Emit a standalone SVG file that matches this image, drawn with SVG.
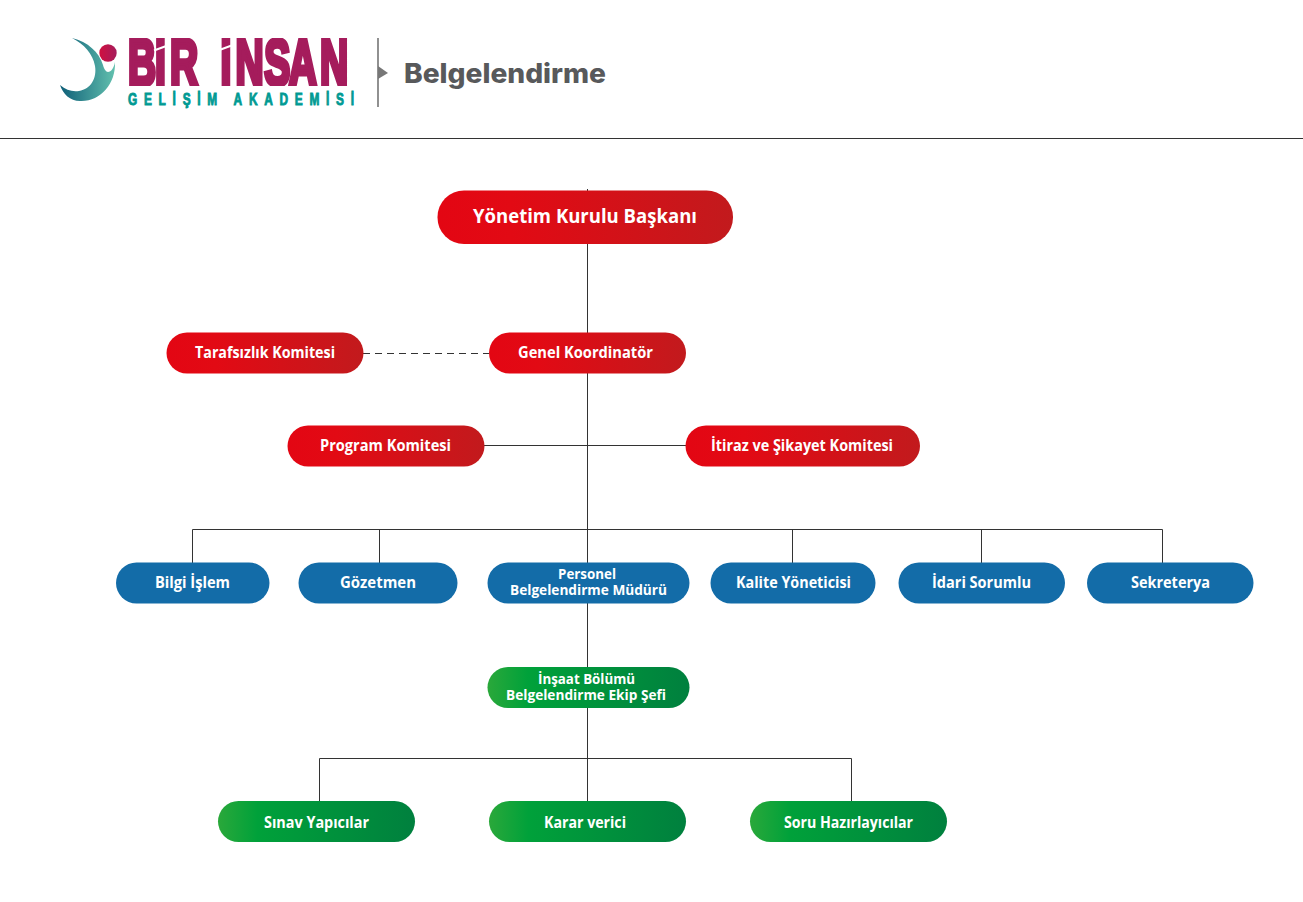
<svg xmlns="http://www.w3.org/2000/svg" width="1303" height="902" viewBox="0 0 1303 902">
<style>
.t{font-family:"Open Sans","Noto Sans",sans-serif;font-weight:700;fill:#fff;font-size:16px}
.c{stroke:#333;stroke-width:1;fill:none}
</style>
<defs>
<linearGradient id="r"><stop offset="0" stop-color="#e30613"/><stop offset=".25" stop-color="#e20a14"/><stop offset="1" stop-color="#c21a1d"/></linearGradient>
<linearGradient id="g"><stop offset="0" stop-color="#2aa83a"/><stop offset=".2" stop-color="#00a13a"/><stop offset="1" stop-color="#00803e"/></linearGradient>
<linearGradient id="s"><stop offset="0" stop-color="#0f5f78"/><stop offset="1" stop-color="#62c0ae"/></linearGradient>
<linearGradient id="d"><stop offset="0" stop-color="#d01040"/><stop offset="1" stop-color="#a51c5c"/></linearGradient>
<clipPath id="top"><rect x="120" y="38" width="240" height="48"/></clipPath>
</defs>
<rect width="1303" height="902" fill="#fff"/>
<g id="header">
<path d="M72 38C88 42 99 52 103 65C104 69 106 72 108 72C111 72 114 68 115 62C116 84 100 102 80 101C70 101 63 94 60 85C66 90 72 92 79 91C91 89 97 78 95 66C93 54 84 44 72 38Z" fill="url(#s)"/>
<circle cx="108" cy="53" r="8.700" fill="url(#d)"/>
<g clip-path="url(#top)">
<text transform="translate(128 84.500) scale(.6 1)" x="0 45 70 130 154 179 227 268 320" font-family="'Liberation Sans',sans-serif" font-weight="700" font-size="65" fill="#a51c5c" stroke="#a51c5c" stroke-width="5">BİR İNSAN</text>
</g>
<path d="M154 50.500L169 45M218 50.500L233 45" stroke="#fff" stroke-width="2"/>
<text transform="translate(128 105) scale(.72 1)" font-family="'Liberation Sans',sans-serif" font-weight="700" font-size="16.500" fill="#009a93" stroke="#009a93" stroke-width=".9" textLength="314" lengthAdjust="spacing">GELİŞİM AKADEMİSİ</text>
<path d="M378 38V107" stroke="#555" stroke-width="1.300"/>
<path d="M378 66L388 73L378 79Z" fill="#777"/>
<text x="404" y="83" font-family="Inter,'Open Sans',sans-serif" font-weight="800" font-size="27" fill="#58595b" textLength="202" lengthAdjust="spacingAndGlyphs">Belgelendirme</text>
<path d="M0 138.500H1303" stroke="#333" stroke-width="1"/>
</g>
<g id="connectors" class="c">
<path d="M587.500 189V667M587.500 708V802"/>
<path d="M484 445.500H686"/>
<path d="M192.500 563V529.500H1162.500V563M379.500 529.500V563M792.500 529.500V563M981.500 529.500V563"/>
<path d="M319.500 802V758.500H851.500V802"/>
<path d="M363 353.500H489" stroke-dasharray="7 5"/>
</g>
<g id="n1"><rect x="437.500" y="190.500" width="295.500" height="53.500" rx="26.500" fill="url(#r)"/><text class="t" x="473" y="223" style="font-size:20px" textLength="224" lengthAdjust="spacingAndGlyphs">Yönetim Kurulu Başkanı</text></g>
<g id="n2"><rect x="166.500" y="332.500" width="197" height="41" rx="20.500" fill="url(#r)"/><text class="t" x="195" y="358" textLength="140" lengthAdjust="spacingAndGlyphs">Tarafsızlık Komitesi</text></g>
<g id="n3"><rect x="489" y="332.500" width="197" height="41" rx="20.500" fill="url(#r)"/><text class="t" x="518" y="358" textLength="135" lengthAdjust="spacingAndGlyphs">Genel Koordinatör</text></g>
<g id="n4"><rect x="287.500" y="425.500" width="197" height="41" rx="20.500" fill="url(#r)"/><text class="t" x="320" y="451" textLength="131" lengthAdjust="spacingAndGlyphs">Program Komitesi</text></g>
<g id="n5"><rect x="685.500" y="425.500" width="234.500" height="41" rx="20.500" fill="url(#r)"/><text class="t" x="711" y="451" textLength="182" lengthAdjust="spacingAndGlyphs">İtiraz ve Şikayet Komitesi</text></g>
<g id="n6"><rect x="116" y="562.500" width="153.500" height="41" rx="20.500" fill="#136ca8"/><text class="t" x="155" y="588" textLength="75" lengthAdjust="spacingAndGlyphs">Bilgi İşlem</text></g>
<g id="n7"><rect x="298.500" y="562.500" width="159" height="41" rx="20.500" fill="#136ca8"/><text class="t" x="340" y="588" textLength="76" lengthAdjust="spacingAndGlyphs">Gözetmen</text></g>
<g id="n8"><rect x="487.500" y="562.500" width="202" height="41" rx="20.500" fill="#136ca8"/><text class="t" x="558" y="579" style="font-size:15px" textLength="58" lengthAdjust="spacingAndGlyphs">Personel</text><text class="t" x="510" y="595" style="font-size:15px" textLength="157" lengthAdjust="spacingAndGlyphs">Belgelendirme Müdürü</text></g>
<g id="n9"><rect x="710.500" y="562.500" width="165" height="41" rx="20.500" fill="#136ca8"/><text class="t" x="736" y="588" textLength="115" lengthAdjust="spacingAndGlyphs">Kalite Yöneticisi</text></g>
<g id="n10"><rect x="898.500" y="562.500" width="166.500" height="41" rx="20.500" fill="#136ca8"/><text class="t" x="932" y="588" textLength="99" lengthAdjust="spacingAndGlyphs">İdari Sorumlu</text></g>
<g id="n11"><rect x="1087" y="562.500" width="166.500" height="41" rx="20.500" fill="#136ca8"/><text class="t" x="1131" y="588" textLength="79" lengthAdjust="spacingAndGlyphs">Sekreterya</text></g>
<g id="n12"><rect x="487.500" y="667" width="202" height="41" rx="20.500" fill="url(#g)"/><text class="t" x="538" y="684" style="font-size:15px" textLength="97" lengthAdjust="spacingAndGlyphs">İnşaat Bölümü</text><text class="t" x="506" y="700" style="font-size:15px" textLength="160" lengthAdjust="spacingAndGlyphs">Belgelendirme Ekip Şefi</text></g>
<g id="n13"><rect x="218" y="801" width="197" height="41" rx="20.500" fill="url(#g)"/><text class="t" x="264" y="828" textLength="105" lengthAdjust="spacingAndGlyphs">Sınav Yapıcılar</text></g>
<g id="n14"><rect x="489" y="801" width="197" height="41" rx="20.500" fill="url(#g)"/><text class="t" x="544" y="828" textLength="82" lengthAdjust="spacingAndGlyphs">Karar verici</text></g>
<g id="n15"><rect x="750" y="801" width="197" height="41" rx="20.500" fill="url(#g)"/><text class="t" x="784" y="828" textLength="129" lengthAdjust="spacingAndGlyphs">Soru Hazırlayıcılar</text></g>
</svg>
